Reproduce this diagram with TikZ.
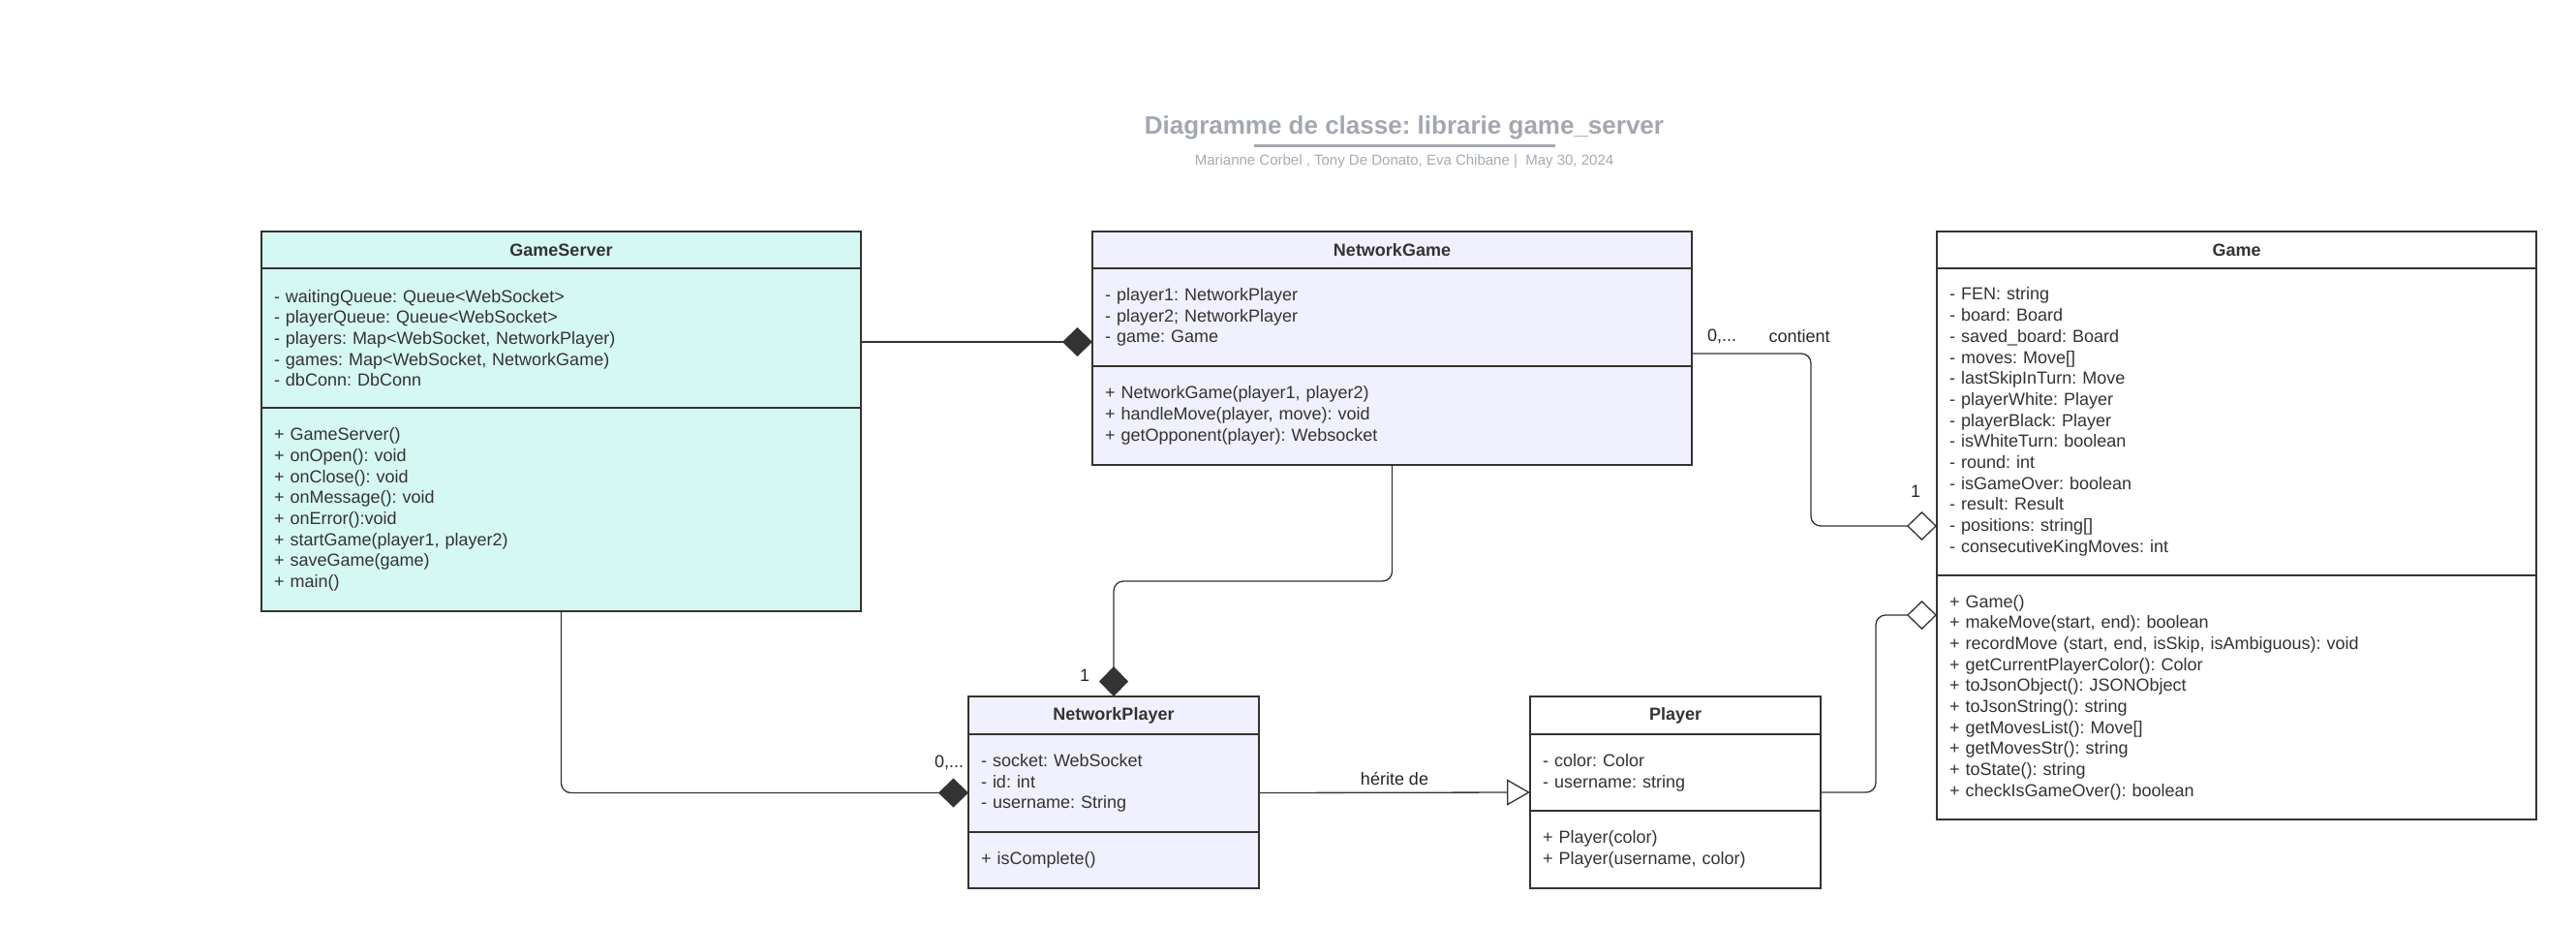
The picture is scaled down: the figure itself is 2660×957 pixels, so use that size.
\documentclass[tikz,border=0pt]{standalone}
\usepackage[usenames,dvipsnames]{xcolor}
\usepackage{fontspec}
\setmainfont{Liberation Sans}
\usepackage{tikz}
\usetikzlibrary{positioning,arrows.meta}
\definecolor{mint}{HTML}{D6F8F2}
\definecolor{lavender}{HTML}{F0F0FE}
\definecolor{boxline}{HTML}{333333}
\definecolor{titlegray}{HTML}{A3A8B0}
\definecolor{subgray}{HTML}{A6ABB2}
\frenchspacing

\begin{document}
\begin{tikzpicture}[x=1pt,y=-1pt,
  classhead/.style={draw=boxline,line width=2.5pt,anchor=north west,outer sep=0pt,inner sep=0pt,minimum height=38pt,font=\fontsize{18}{21.7}\selectfont\bfseries,text=boxline},
  classpart/.style={draw=boxline,line width=2.5pt,below=0pt of #1,outer sep=0pt,inner xsep=13pt,inner ysep=0pt,align=left,font=\fontsize{18}{21.7}\selectfont,text=boxline},
  conn/.style={draw=boxline,line width=1.3pt,rounded corners=10pt},
  fdiamond/.style={-{Diamond[length=31pt,width=30pt,fill=boxline]}},
  odiamond/.style={-{Diamond[open,length=31pt,width=30pt,fill=white]}},
  otriangle/.style={-{Triangle[open,length=24pt,width=27pt,fill=white]}},
  lbl/.style={font=\fontsize{18}{21.7}\selectfont,text=black!85,inner sep=0pt}]
\fill[white] (0,0) rectangle (2660,957);
\useasboundingbox (0,0) rectangle (2660,957);
\node[font=\fontsize{26}{30}\selectfont\bfseries,text=titlegray] (title) at (1450,132) {Diagramme de classe: librarie game\_server};
\draw[titlegray,line width=3pt] (1295,151) -- (1606,151);
\node[font=\fontsize{15}{18}\selectfont,text=subgray] (authors) at (1450,167) {Marianne Corbel , Tony De Donato, Eva Chibane |~ May 30, 2024};

\node[classhead,fill=mint,minimum width=619pt] (gs) at (270,239) {GameServer};
\node[classpart=gs,fill=mint,text width=593pt,minimum height=144pt] (gsattr) {- waitingQueue: Queue<WebSocket>\\- playerQueue: Queue<WebSocket>\\- players: Map<WebSocket, NetworkPlayer)\\- games: Map<WebSocket, NetworkGame)\\- dbConn: DbConn};
\node[classpart=gsattr,fill=mint,text width=593pt,minimum height=210pt] (gsmeth) {+ GameServer()\\+ onOpen(): void\\+ onClose(): void\\+ onMessage(): void\\+ onError():void\\+ startGame(player1, player2)\\+ saveGame(game)\\+ main()};

\node[classhead,fill=lavender,minimum width=619pt] (ng) at (1128,239) {NetworkGame};
\node[classpart=ng,fill=lavender,text width=593pt,minimum height=101pt] (ngattr) {- player1: NetworkPlayer\\- player2; NetworkPlayer\\- game: Game};
\node[classpart=ngattr,fill=lavender,text width=593pt,minimum height=102pt] (ngmeth) {+ NetworkGame(player1, player2)\\+ handleMove(player, move): void\\+ getOpponent(player): Websocket};

\node[classhead,fill=white,minimum width=619pt] (gm) at (2000,239) {Game};
\node[classpart=gm,fill=white,text width=593pt,minimum height=317pt] (gmattr) {- FEN: string\\- board: Board\\- saved\_board: Board\\- moves: Move[]\\- lastSkipInTurn: Move\\- playerWhite: Player\\- playerBlack: Player\\- isWhiteTurn: boolean\\- round: int\\- isGameOver: boolean\\- result: Result\\- positions: string[]\\- consecutiveKingMoves: int};
\node[classpart=gmattr,fill=white,text width=593pt,minimum height=252pt] (gmmeth) {+ Game()\\+ makeMove(start, end): boolean\\+ recordMove (start, end, isSkip, isAmbiguous): void\\+ getCurrentPlayerColor(): Color\\+ toJsonObject(): JSONObject\\+ toJsonString(): string\\+ getMovesList(): Move[]\\+ getMovesStr(): string\\+ toState(): string\\+ checkIsGameOver(): boolean};

\node[classhead,fill=lavender,minimum width=300pt,minimum height=39pt] (np) at (1000,719) {NetworkPlayer};
\node[classpart=np,fill=lavender,text width=274pt,minimum height=101pt] (npattr) {- socket: WebSocket\\- id: int\\- username: String};
\node[classpart=npattr,fill=lavender,text width=274pt,minimum height=58pt] (npmeth) {+ isComplete()};

\node[classhead,fill=white,minimum width=300pt,minimum height=39pt] (pl) at (1580,719) {Player};
\node[classpart=pl,fill=white,text width=274pt,minimum height=79pt] (plattr) {- color: Color\\- username: string};
\node[classpart=plattr,fill=white,text width=274pt,minimum height=80pt] (plmeth) {+ Player(color)\\+ Player(username, color)};

\draw[conn,fdiamond] ([yshift=-4pt]gsattr.east) -- ([yshift=-4pt]gsattr.east -| ngattr.west);
\draw[conn,fdiamond] (ngmeth.south) -- ++(0,120) -| (np.north);
\draw[conn,fdiamond] (gsmeth.south) |- ([yshift=-10pt]npattr.west);
\draw[conn,otriangle] ([yshift=-10pt]npattr.east) -- ([yshift=-20.5pt]plattr.west) node[lbl,midway,above=7pt] (herite) {hérite de};
\draw[conn,odiamond] ([yshift=-20.5pt]plattr.east) -- ++(57,0) |- ([yshift=85pt]gmmeth.west);
\draw[conn,odiamond] ([yshift=-37.5pt]ngattr.east) -- ++(123,0) |- ([yshift=-107.5pt]gmattr.west);

\node[lbl] (ngmult) at ([xshift=31pt,yshift=-20pt]ngattr.east) {0,...};
\node[lbl] (contient) at ([xshift=111pt,yshift=-20pt]ngattr.east) {contient};
\node[lbl] (gmmult) at ([xshift=-22pt,yshift=-71.5pt]gmattr.west) {1};
\node[lbl] (npmult) at ([xshift=-30pt,yshift=22pt]np.north) {1};
\node[lbl] (gsmult) at ([xshift=-20pt,yshift=21.5pt]npattr.west) {0,...};
\end{tikzpicture}
\end{document}
